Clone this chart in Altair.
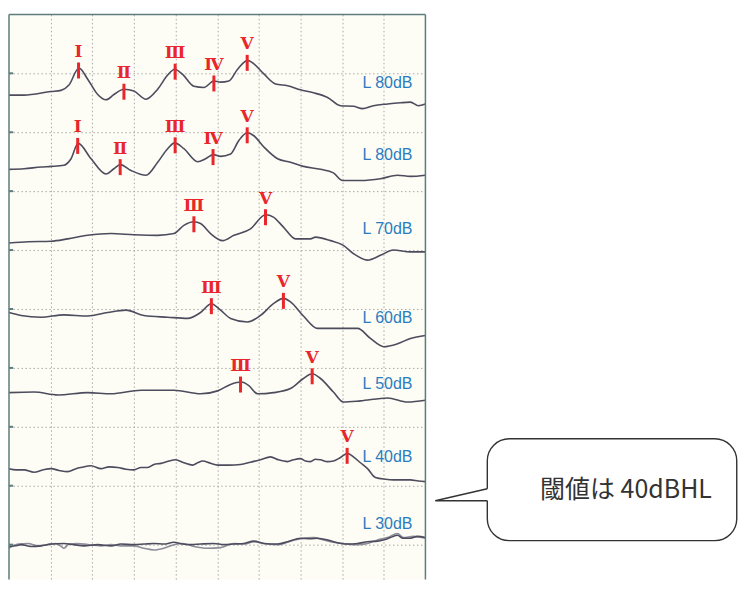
import altair as alt
import pandas as pd

# ---------------- data (latency in ms, amplitude in grid divisions) ----------------
t_80a = [0.0, 0.36, 1.01, 1.25, 1.44, 1.68, 1.89, 2.13, 2.33, 2.52, 2.76, 3.00, 3.29, 3.57, 3.81,
         3.98, 4.17, 4.44, 4.68, 4.92, 5.08, 5.28, 5.49, 5.73, 5.88, 6.12, 6.40, 6.69, 7.00, 7.31,
         7.65, 7.96, 8.27, 8.49, 8.75, 9.09, 9.40, 9.64, 9.83, 10.0]
v_80a = [8.63, 8.63, 8.69, 8.71, 8.80, 9.09, 8.90, 8.64, 8.55, 8.64, 8.73, 8.70, 8.56, 8.73, 8.97,
         9.07, 8.98, 8.78, 8.76, 8.87, 8.85, 8.87, 9.07, 9.22, 9.16, 8.99, 8.82, 8.79, 8.72, 8.67,
         8.59, 8.45, 8.44, 8.40, 8.45, 8.48, 8.50, 8.51, 8.45, 8.48]

t_80b = [0.0, 0.36, 0.77, 1.01, 1.32, 1.49, 1.66, 1.97, 2.33, 2.52, 2.67, 2.93, 3.29, 3.57, 3.81,
         3.98, 4.20, 4.53, 4.72, 4.91, 5.08, 5.32, 5.52, 5.72, 5.88, 6.12, 6.45, 6.76, 7.07, 7.48,
         7.79, 8.01, 8.44, 8.92, 9.33, 9.64, 10.0]
v_80b = [7.37, 7.38, 7.41, 7.42, 7.44, 7.55, 7.81, 7.55, 7.29, 7.38, 7.45, 7.35, 7.27, 7.49, 7.72,
         7.82, 7.72, 7.50, 7.55, 7.62, 7.59, 7.63, 7.86, 7.99, 7.94, 7.75, 7.55, 7.49, 7.42, 7.37,
         7.31, 7.18, 7.18, 7.21, 7.27, 7.25, 7.27]

t_70 = [0.0, 0.46, 1.01, 1.41, 1.89, 2.45, 3.00, 3.57, 3.96, 4.20, 4.44, 4.60, 4.84, 5.13, 5.40,
        5.80, 6.16, 6.35, 6.59, 6.88, 7.24, 7.36, 7.72, 8.03, 8.27, 8.61, 8.92, 9.23, 9.64, 10.0]
v_70 = [6.12, 6.14, 6.15, 6.19, 6.25, 6.28, 6.26, 6.25, 6.28, 6.42, 6.48, 6.45, 6.28, 6.16, 6.25,
        6.36, 6.60, 6.56, 6.39, 6.19, 6.19, 6.22, 6.16, 6.08, 5.94, 5.83, 5.91, 6.00, 5.97, 5.97]

t_60 = [0.0, 0.29, 0.77, 1.32, 1.89, 2.37, 2.81, 3.24, 3.81, 4.29, 4.60, 4.86, 5.08, 5.32, 5.73,
        6.04, 6.35, 6.59, 6.76, 7.07, 7.41, 7.79, 8.37, 8.68, 9.00, 9.33, 9.64, 10.0]
v_60 = [4.94, 4.89, 4.86, 4.90, 4.88, 4.94, 4.98, 4.89, 4.86, 4.84, 4.94, 5.09, 4.98, 4.84, 4.78,
        4.89, 5.09, 5.18, 5.12, 4.88, 4.67, 4.67, 4.67, 4.50, 4.36, 4.41, 4.50, 4.55]

t_50 = [0.0, 0.60, 1.18, 1.89, 2.45, 3.17, 3.96, 4.60, 5.01, 5.32, 5.58, 5.76, 5.97, 6.35, 6.76,
        7.07, 7.28, 7.48, 7.79, 8.03, 8.44, 9.09, 9.57, 10.0]
v_50 = [3.58, 3.59, 3.54, 3.58, 3.56, 3.62, 3.62, 3.56, 3.61, 3.72, 3.76, 3.70, 3.56, 3.58, 3.65,
        3.82, 3.90, 3.82, 3.59, 3.42, 3.44, 3.49, 3.42, 3.45]

t_40 = [0.0, 0.17, 0.36, 0.60, 0.82, 1.01, 1.20, 1.41, 1.61, 1.73, 1.97, 2.21, 2.40, 2.61, 2.81,
        3.00, 3.17, 3.33, 3.48, 3.65, 3.84, 4.00, 4.20, 4.41, 4.53, 4.65, 4.84, 5.01, 5.28, 5.56,
        5.80, 6.04, 6.28, 6.47, 6.69, 6.83, 7.00, 7.12, 7.24, 7.36, 7.48, 7.65, 7.79, 7.96, 8.13,
        8.27, 8.44, 8.61, 8.80, 9.04, 9.23, 9.45, 9.64, 9.83, 10.0]
v_40 = [2.29, 2.27, 2.27, 2.23, 2.27, 2.29, 2.26, 2.24, 2.29, 2.31, 2.34, 2.29, 2.32, 2.31, 2.28,
        2.27, 2.31, 2.31, 2.36, 2.38, 2.42, 2.44, 2.39, 2.35, 2.39, 2.42, 2.38, 2.35, 2.35, 2.36,
        2.40, 2.44, 2.49, 2.44, 2.41, 2.44, 2.46, 2.42, 2.41, 2.45, 2.44, 2.41, 2.42, 2.48, 2.55,
        2.49, 2.39, 2.29, 2.14, 2.11, 2.10, 2.10, 2.10, 2.08, 2.07]

t_30a = [0.0, 0.17, 0.29, 0.53, 0.77, 1.01, 1.32, 1.56, 1.80, 2.13, 2.45, 2.69, 3.00, 3.24, 3.48,
         3.72, 3.96, 4.17, 4.36, 4.60, 4.92, 5.16, 5.40, 5.64, 5.88, 6.12, 6.45, 6.69, 7.00, 7.24,
         7.41, 7.65, 7.79, 8.13, 8.37, 8.61, 8.85, 8.99, 9.16, 9.33, 9.45, 9.64, 9.81, 10.0]
v_30a = [0.97, 0.98, 1.00, 0.97, 0.98, 1.01, 1.02, 1.00, 0.98, 1.00, 0.98, 1.01, 1.00, 1.01, 1.02,
         1.01, 1.04, 1.01, 1.00, 1.01, 1.02, 1.00, 1.01, 1.02, 1.06, 1.02, 1.01, 1.05, 1.11, 1.10,
         1.11, 1.08, 1.05, 1.01, 1.02, 1.05, 1.06, 1.08, 1.12, 1.16, 1.11, 1.11, 1.14, 1.12]

t_30b = [0.0, 0.22, 0.46, 0.70, 0.94, 1.13, 1.25, 1.32, 1.44, 1.65, 1.89, 2.21, 2.45, 2.69, 3.00,
         3.24, 3.48, 3.72, 3.96, 4.17, 4.44, 4.77, 5.08, 5.40, 5.64, 5.88, 6.21, 6.45, 6.76, 7.00,
         7.31, 7.55, 7.79, 8.13, 8.37, 8.61, 8.85, 9.09, 9.33, 9.47, 9.71, 10.0]
v_30b = [0.94, 1.01, 1.02, 0.98, 1.00, 1.02, 0.97, 0.94, 1.01, 1.02, 1.00, 0.98, 1.00, 0.98, 0.98,
         0.94, 0.91, 0.94, 1.00, 1.02, 0.97, 0.94, 0.95, 1.02, 1.01, 1.05, 1.01, 1.00, 1.06, 1.10,
         1.12, 1.08, 1.04, 1.01, 1.00, 1.02, 1.08, 1.12, 1.19, 1.12, 1.14, 1.11]

# wave peak markers
peak_trace = ["80a", "80a", "80a", "80a", "80a", "80b", "80b", "80b", "80b", "80b",
              "70", "70", "60", "60", "50", "50", "40"]
peak_label = ["Ⅰ", "Ⅱ", "Ⅲ", "Ⅳ", "Ⅴ", "Ⅰ", "Ⅱ", "Ⅲ", "Ⅳ", "Ⅴ",
              "Ⅲ", "Ⅴ", "Ⅲ", "Ⅴ", "Ⅲ", "Ⅴ", "Ⅴ"]
peak_t = [1.67, 2.76, 3.99, 4.92, 5.72, 1.65, 2.67, 3.99, 4.90, 5.72,
          4.44, 6.16, 4.86, 6.59, 5.56, 7.28, 8.12]
peak_v = [9.09, 8.73, 9.07, 8.87, 9.22, 7.81, 7.45, 7.82, 7.62, 7.99,
          6.48, 6.60, 5.09, 5.18, 3.76, 3.90, 2.55]

# level labels
level_text = ["L 80dB", "L 80dB", "L 70dB", "L 60dB", "L 50dB", "L 40dB", "L 30dB"]
level_t = [9.69, 9.69, 9.69, 9.69, 9.69, 9.69, 9.69]
level_v = [8.75, 7.53, 6.27, 4.76, 3.64, 2.41, 1.27]

# callout
callout_text = "閾値は 40dBHL"

# ---------------- styling ----------------
LINE = "#4c4c5e"
LINE_LIGHT = "#8c8c9a"
RED = "#e8262b"
BLUE = "#2a7cc0"
FRAME = "#5e7c7d"
CREAM = "#fdfdf5"
GRID = "#a9a9a9"

traces = [("80a", t_80a, v_80a), ("80b", t_80b, v_80b), ("70", t_70, v_70),
          ("60", t_60, v_60), ("50", t_50, v_50), ("40", t_40, v_40),
          ("30b", t_30b, v_30b), ("30a", t_30a, v_30a)]
rows = []
for name, ts, vs in traces:
    for i, (t, v) in enumerate(zip(ts, vs)):
        rows.append({"trace": name, "t": t, "v": v, "i": i})
df = pd.DataFrame(rows)

marks_df = pd.DataFrame({"trace": peak_trace, "label": peak_label, "t": peak_t, "v": peak_v})
levels_df = pd.DataFrame({"text": level_text, "t": level_t, "v": level_v})

W, H = 417, 566
xs = alt.Scale(domain=[0, 10], nice=False, zero=False)
ys = alt.Scale(domain=[10 - H / 59.0, 10], nice=False, zero=False)
axis_common = dict(grid=True, labels=False, ticks=False, domain=False, tickSize=0,
                   labelPadding=0, minExtent=0, maxExtent=0, offset=0,
                   gridColor=GRID, gridDash=[1.5, 2.5], gridWidth=1)
ax_x = alt.Axis(values=list(range(1, 10)), **axis_common)
ax_y = alt.Axis(values=list(range(1, 10)), **axis_common)


def X(field):
    return alt.X(field, scale=xs, axis=ax_x, title=None)


def Y(field):
    return alt.Y(field, scale=ys, axis=ax_y, title=None)


color_scale = alt.Scale(domain=["80a", "80b", "70", "60", "50", "40", "30b", "30a"],
                        range=[LINE, LINE, LINE, LINE, LINE, LINE, LINE_LIGHT, LINE])

lines = alt.Chart(df).mark_line(strokeWidth=1.6, interpolate="monotone").encode(
    x=X("t:Q"), y=Y("v:Q"), detail="trace:N", order="i:Q",
    color=alt.Color("trace:N", scale=color_scale, legend=None))

ticks = alt.Chart(marks_df).mark_tick(orient="vertical", size=16, thickness=3, color=RED,
                                      opacity=1, yOffset=2.5).encode(x=X("t:Q"), y=Y("v:Q"))

numerals = alt.Chart(marks_df).mark_text(font="DejaVu Serif", fontWeight="bold", fontSize=17,
                                         color=RED, dy=-16, baseline="middle").encode(
    x=X("t:Q"), y=Y("v:Q"), text="label:N")

levels = alt.Chart(levels_df).mark_text(align="right", baseline="alphabetic",
                                        font="Liberation Sans", fontSize=16, color=BLUE).encode(
    x=X("t:Q"), y=Y("v:Q"), text="text:N")

frame_v = alt.Chart(pd.DataFrame({"t": [0, 10]})).mark_rule(color=FRAME, strokeWidth=1.5).encode(
    x=X("t:Q"))
frame_top = alt.Chart(pd.DataFrame({"v": [10]})).mark_rule(color=FRAME, strokeWidth=1.5).encode(
    y=Y("v:Q"))
side_ticks = alt.Chart(pd.DataFrame({"v": list(range(1, 10)), "t0": [0] * 9, "t1": [0.1] * 9})
                       ).mark_rule(color=FRAME, strokeWidth=2).encode(
    x=X("t0:Q"), x2="t1:Q", y=Y("v:Q"))

left = alt.layer(lines, ticks, numerals, levels, side_ticks, frame_v, frame_top).properties(
    width=W, height=H, view=alt.ViewBackground(fill=CREAM, strokeWidth=0))

# ---------------- callout bubble ----------------
RW = 310
bxs = alt.Scale(domain=[10, 10 + RW / 41.7], nice=False, zero=False)
bys = alt.Scale(domain=[10 - H / 59.0, 10], nice=False, zero=False)


def BX(field):
    return alt.X(field, scale=bxs, axis=None)


def BY(field):
    return alt.Y(field, scale=bys, axis=None)


box = alt.Chart(pd.DataFrame({"x0": [11.39], "x1": [17.38], "y0": [1.068], "y1": [2.797]})).mark_rect(
    fill="white", stroke="#333333", strokeWidth=1.4, cornerRadius=22).encode(
    x=BX("x0:Q"), x2="x1:Q", y=BY("y0:Q"), y2="y1:Q")
gap = alt.Chart(pd.DataFrame({"x": [11.39], "y0": [1.746], "y1": [1.949]})).mark_rule(
    color="white", strokeWidth=3).encode(x=BX("x:Q"), y=BY("y0:Q"), y2="y1:Q")
pointer = alt.Chart(pd.DataFrame({"x": [11.39, 10.14, 11.39], "y": [1.949, 1.746, 1.746],
                                  "o": [0, 1, 2]})).mark_line(
    color="#333333", strokeWidth=1.4).encode(x=BX("x:Q"), y=BY("y:Q"), order="o:Q")
label = alt.Chart(pd.DataFrame({"x": [14.72], "y": [1.93], "text": [callout_text]})).mark_text(
    font="Noto Sans CJK JP", fontSize=25, color="#333333", align="center", baseline="middle").encode(
    x=BX("x:Q"), y=BY("y:Q"), text="text:N")

right = alt.layer(box, gap, pointer, label).properties(width=RW, height=H)

chart = alt.hconcat(left, right, spacing=0).resolve_scale(
    x="independent", y="independent", color="independent").properties(
    padding={"left": -3, "top": 5, "right": 0, "bottom": 0}).configure_view(strokeWidth=0)

chart.save("out.html", embed_options={"renderer": "svg", "actions": False})
